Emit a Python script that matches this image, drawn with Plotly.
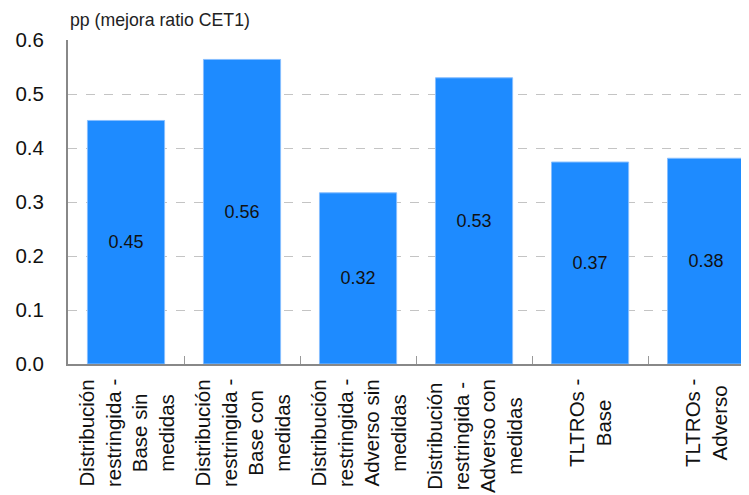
import plotly.graph_objects as go

categorias = [
    "Distribución<br>restringida -<br>Base sin<br>medidas",
    "Distribución<br>restringida -<br>Base con<br>medidas",
    "Distribución<br>restringida -<br>Adverso sin<br>medidas",
    "Distribución<br>restringida -<br>Adverso con<br>medidas",
    "TLTROs -<br>Base",
    "TLTROs -<br>Adverso",
]
valores = [0.451, 0.564, 0.317, 0.530, 0.374, 0.381]
etiquetas = ["0.45", "0.56", "0.32", "0.53", "0.37", "0.38"]

fuente = "Liberation Sans, Arial, sans-serif"
x = list(range(len(categorias)))

fig = go.Figure()
fig.add_trace(go.Bar(
    x=x, y=valores, width=0.665,
    marker=dict(color="#1E8BFF", line=dict(color="#86BEFF", width=1)),
    text=etiquetas, textposition="inside", insidetextanchor="middle",
    textfont=dict(size=18, color="#111111", family=fuente),
    textangle=0,
))

# etiquetas de categoría giradas
for i, c in enumerate(categorias):
    fig.add_annotation(
        x=i, xref="x", y=0, yref="paper", yshift=-13,
        text=c, textangle=-90, showarrow=False,
        xanchor="center", yanchor="top", align="center",
        font=dict(size=20.5, color="#111111", family=fuente),
    )

fig.add_annotation(
    x=0, xref="paper", y=1, yref="paper", yshift=20,
    text="pp (mejora ratio CET1)", showarrow=False,
    xanchor="left", yanchor="middle",
    font=dict(size=17.7, color="#222222", family=fuente),
)

fig.update_layout(
    width=749, height=495,
    margin=dict(l=60, r=8, t=32, b=139),
    plot_bgcolor="white", paper_bgcolor="white",
    showlegend=False,
    xaxis=dict(
        range=[-0.5, 5.37], tickvals=[i + 0.5 for i in range(6)],
        showticklabels=False, ticks="inside", ticklen=8, tickcolor="#999999",
        showgrid=False, showline=True, linecolor="#888888", linewidth=2,
        zeroline=False,
    ),
    yaxis=dict(
        range=[0, 0.6], dtick=0.1, tickformat=".1f",
        showgrid=True, gridcolor="#C4C4C4", griddash="dash", gridwidth=1,
        showline=True, linecolor="#888888", linewidth=2, zeroline=False,
        ticks="", ticklabelstandoff=18,
        tickfont=dict(size=20.5, color="#111111", family=fuente),
    ),
)

fig.write_html("out.html")
